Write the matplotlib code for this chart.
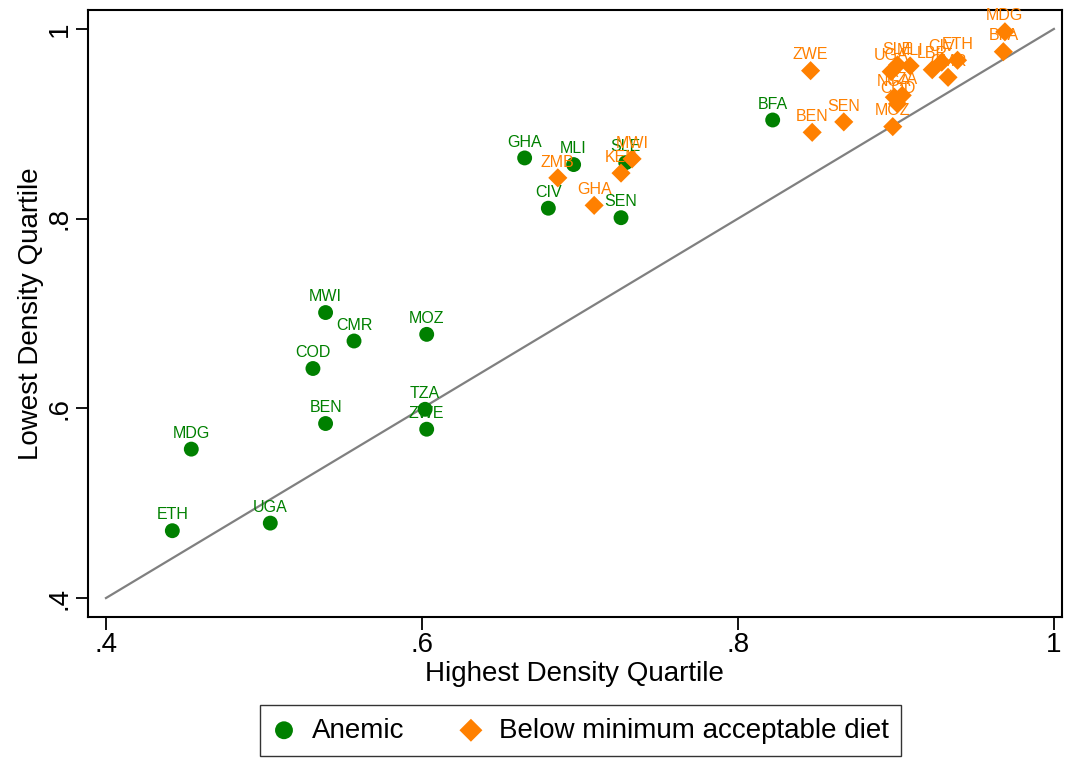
import numpy as np
import matplotlib.pyplot as plt

plt.rcParams['font.family'] = ['Liberation Sans', 'DejaVu Sans']

# anemic (green circles)
anem_lab = ['ETH', 'MDG', 'UGA', 'COD', 'BEN', 'MWI', 'CMR', 'MOZ', 'TZA', 'ZWE',
            'GHA', 'MLI', 'CIV', 'SEN', 'SLE', 'BFA']
anem_hi = [0.442, 0.454, 0.504, 0.531, 0.539, 0.539, 0.557, 0.603, 0.602, 0.603,
           0.665, 0.696, 0.680, 0.726, 0.729, 0.822]
anem_lo = [0.471, 0.557, 0.479, 0.642, 0.584, 0.701, 0.671, 0.678, 0.599, 0.578,
           0.864, 0.857, 0.811, 0.801, 0.859, 0.904]

# below minimum acceptable diet (orange diamonds)
diet_lab = ['ZMB', 'GHA', 'KEN', 'MWI', 'ZWE', 'BEN', 'SEN', 'MOZ', 'UGA', 'SLE',
            'MLI', 'NGA', 'TZA', 'COD', 'LBR', 'CMR', 'CIV', 'ETH', 'MDG', 'BFA']
diet_hi = [0.686, 0.709, 0.726, 0.733, 0.846, 0.847, 0.867, 0.898, 0.897, 0.901,
           0.909, 0.899, 0.904, 0.901, 0.923, 0.933, 0.929, 0.939, 0.969, 0.968]
diet_lo = [0.843, 0.814, 0.848, 0.863, 0.956, 0.891, 0.902, 0.897, 0.955, 0.962,
           0.961, 0.928, 0.930, 0.921, 0.957, 0.949, 0.965, 0.967, 0.997, 0.976]

green = '#008000'
orange = '#ff8000'

fig = plt.figure(figsize=(10.65, 7.61), dpi=100)
ax = fig.add_axes([0.0826, 0.1892, 0.9144, 0.7977])

ax.plot([0.4, 1.0], [0.4, 1.0], color='#808080', lw=1.6, zorder=1)

ax.scatter(anem_hi, anem_lo, s=115, marker='o', color=green, edgecolors='none',
           zorder=3, label='Anemic')
ax.scatter(diet_hi, diet_lo, s=95, marker='D', color=orange, edgecolors='none',
           zorder=3, label='Below minimum acceptable diet')

for i in range(len(anem_lab)):
    ax.annotate(anem_lab[i], (anem_hi[i], anem_lo[i]), xytext=(0, 6),
                textcoords='offset points', ha='center', va='bottom',
                fontsize=11.5, color=green, zorder=4)
for i in range(len(diet_lab)):
    ax.annotate(diet_lab[i], (diet_hi[i], diet_lo[i]), xytext=(0, 6),
                textcoords='offset points', ha='center', va='bottom',
                fontsize=11.5, color=orange, zorder=4)

ax.set_xlim(0.3886, 1.005)
ax.set_ylim(0.380, 1.020)
ticks = [0.4, 0.6, 0.8, 1.0]
ticklabs = ['.4', '.6', '.8', '1']
ax.set_xticks(ticks)
ax.set_xticklabels(ticklabs)
ax.set_yticks(ticks)
ax.set_yticklabels(ticklabs, rotation=90, va='center')
ax.tick_params(direction='out', length=9, width=1.3, labelsize=20, pad=2)

for sp in ax.spines.values():
    sp.set_linewidth(1.5)

ax.set_xlabel('Highest Density Quartile', fontsize=20, labelpad=2)
ax.set_ylabel('Lowest Density Quartile', fontsize=20, labelpad=2)

leg = ax.legend(loc='upper center', bbox_to_anchor=(0.506, -0.145), ncol=2,
                fontsize=20, frameon=True, fancybox=False, edgecolor='black',
                borderaxespad=0, handlelength=0.8, handletextpad=0.6,
                columnspacing=2.0, borderpad=0.45, scatterpoints=1,
                markerscale=1.2)
leg.get_frame().set_linewidth(1.0)

plt.savefig('out.png', dpi=100)
